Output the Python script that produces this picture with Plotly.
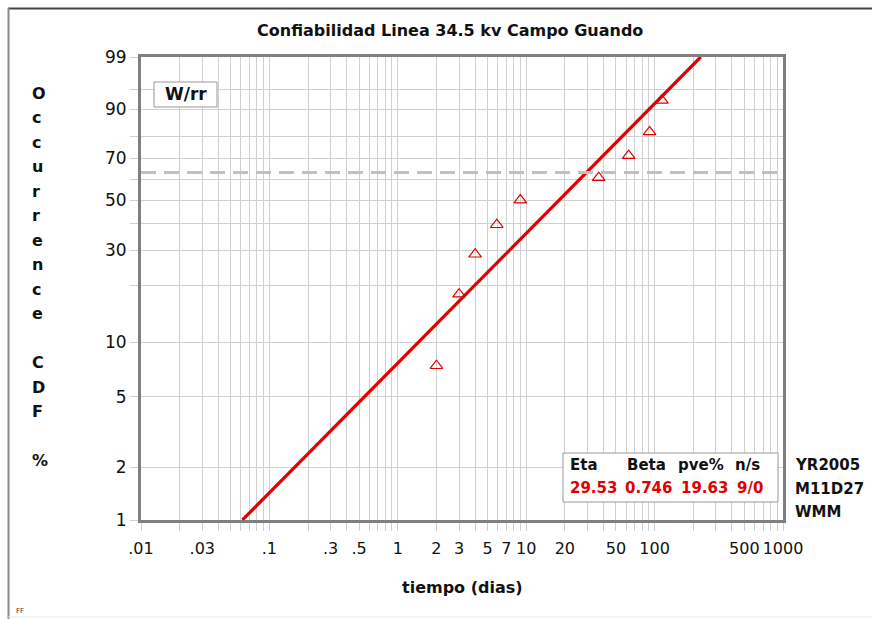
import numpy as np
import plotly.graph_objects as go

# ---------------- data ----------------
tiempo = [2.0, 3.0, 4.0, 5.9, 9.0, 36.7, 62.8, 91.4, 114.0]          # dias
cdf_pct = [7.45, 18.09, 28.72, 39.36, 50.0, 60.64, 71.28, 81.91, 92.55]  # median ranks %
fit_t = [0.0617, 228.7]       # fitted Weibull line endpoints (dias)
fit_cdf = [1.0, 99.0]         # at these CDF %
eta_line = 63.2               # characteristic-life reference line (%)

x_grid = [m * 10.0 ** e for e in range(-2, 3) for m in range(1, 10)] + [1000]
x_labels = {0.01: ".01", 0.03: ".03", 0.1: ".1", 0.3: ".3", 0.5: ".5", 1: "1", 2: "2",
            3: "3", 5: "5", 7: "7", 10: "10", 20: "20", 50: "50", 100: "100",
            500: "500", 1000: "1000"}
y_grid = [1, 2, 5, 10, 20, 30, 40, 50, 60, 70, 80, 90, 95, 99]
y_labels = [1, 2, 5, 10, 30, 50, 70, 90, 99]

stat_heads = ["Eta", "Beta", "pve%", "n/s"]
stat_vals = ["29.53", "0.746", "19.63", "9/0"]
side_text = ["YR2005", "M11D27", "WMM"]
ylabel_chars = list("Occurrence") + [""] + list("CDF") + [""] + ["%"]


def wb(p):
    p = np.asarray(p, dtype=float) / 100.0
    return np.log(-np.log(1.0 - p))


# ---------------- layout helpers (pixel -> paper) ----------------
L, R, T, B = 141, 783, 57, 520
W, H = 872, 619


def px(x):
    return (x - L) / (R - L)


def py(y):
    return (B - y) / (B - T)


FONT = "DejaVu Sans"
RED = "#e00000"

fig = go.Figure()
fig.add_trace(go.Scatter(x=fit_t, y=wb(fit_cdf), mode="lines",
                         line=dict(color=RED, width=3.2), hoverinfo="skip"))
fig.add_trace(go.Scatter(x=tiempo, y=wb(cdf_pct), mode="markers",
                         marker=dict(symbol="triangle-up-open", color=RED, size=11,
                                     line=dict(width=1.2, color=RED))))

def xlab(v):
    for k, s in x_labels.items():
        if abs(v - k) / k < 1e-6:
            return s
    return ""

fig.update_xaxes(type="log", range=[-2, 3], tickvals=x_grid,
                 ticktext=[xlab(v) for v in x_grid],
                 showgrid=True, gridcolor="#d0d0d0", gridwidth=1,
                 ticks="outside", ticklen=8, tickcolor="#d0d0d0",
                 showline=True, linecolor="#808080", linewidth=3, mirror=True,
                 tickfont=dict(family=FONT, size=16, color="#111"),
                 ticklabelstandoff=4, zeroline=False)
fig.update_yaxes(range=[float(wb(1)), float(wb(99))], tickvals=list(wb(y_grid)),
                 ticktext=[str(v) if v in y_labels else "" for v in y_grid],
                 showgrid=True, gridcolor="#d0d0d0", gridwidth=1,
                 ticks="outside", ticklen=8, tickcolor="#d0d0d0",
                 showline=True, linecolor="#808080", linewidth=3, mirror=True,
                 tickfont=dict(family=FONT, size=17, color="#111"),
                 ticklabelstandoff=0, zeroline=False)

shapes = []
# 63.2% dashed line
shapes.append(dict(type="line", xref="paper", yref="y", x0=0, x1=1,
                   y0=float(wb(eta_line)), y1=float(wb(eta_line)),
                   line=dict(color="#c0c0c0", width=3, dash="15px,8px")))
# W/rr box
shapes.append(dict(type="rect", xref="paper", yref="paper", x0=px(154), x1=px(217),
                   y0=py(107), y1=py(82), line=dict(color="#999", width=1), fillcolor="white"))
# stats box
shapes.append(dict(type="rect", xref="paper", yref="paper", x0=px(563), x1=px(778),
                   y0=py(502), y1=py(453), line=dict(color="#999", width=1), fillcolor="white"))
# outer frame
shapes.append(dict(type="line", xref="paper", yref="paper", x0=px(8), x1=px(872),
                   y0=py(8.5), y1=py(8.5), line=dict(color="#444", width=2)))
shapes.append(dict(type="line", xref="paper", yref="paper", x0=px(8.5), x1=px(8.5),
                   y0=py(8), y1=py(619), line=dict(color="#888", width=2)))
shapes.append(dict(type="line", xref="paper", yref="paper", x0=px(8), x1=px(872),
                   y0=py(617), y1=py(617), line=dict(color="#e6e6e6", width=1)))

ann = []
ann.append(dict(text="<b>Confiabilidad Linea 34.5 kv Campo Guando</b>", x=px(450), y=py(31),
                xref="paper", yref="paper", showarrow=False, xanchor="center", yanchor="middle",
                font=dict(family=FONT, size=16, color="#111")))
ann.append(dict(text="<b>tiempo (dias)</b>", x=px(462), y=py(587),
                xref="paper", yref="paper", showarrow=False, xanchor="center", yanchor="middle",
                font=dict(family=FONT, size=16, color="#111")))
ann.append(dict(text="<b>W/rr</b>", x=px(185.5), y=py(94.5),
                xref="paper", yref="paper", showarrow=False, xanchor="center", yanchor="middle",
                font=dict(family=FONT, size=17, color="#111")))
for i, ch in enumerate(ylabel_chars):
    if ch:
        ann.append(dict(text="<b>%s</b>" % ch, x=px(30), y=py(93 + 24.5 * i),
                        xref="paper", yref="paper", showarrow=False, xanchor="left",
                        yanchor="middle", font=dict(family=FONT, size=16, color="#111")))
head_x = [568, 625, 676, 733]
val_x = [568, 623, 679, 735]
for s, x in zip(stat_heads, head_x):
    ann.append(dict(text="<b>%s</b>" % s, x=px(x), y=py(465), xref="paper", yref="paper",
                    showarrow=False, xanchor="left", yanchor="middle",
                    font=dict(family=FONT, size=15, color="#111")))
for s, x in zip(stat_vals, val_x):
    ann.append(dict(text="<b>%s</b>" % s, x=px(x), y=py(488), xref="paper", yref="paper",
                    showarrow=False, xanchor="left", yanchor="middle",
                    font=dict(family=FONT, size=15, color=RED)))
for i, s in enumerate(side_text):
    ann.append(dict(text="<b>%s</b>" % s, x=px(793), y=py(465 + 23.5 * i), xref="paper",
                    yref="paper", showarrow=False, xanchor="left", yanchor="middle",
                    font=dict(family=FONT, size=15, color="#111")))
ann.append(dict(text="FF", x=px(14), y=py(611), xref="paper", yref="paper", showarrow=False,
                xanchor="left", yanchor="middle", font=dict(family=FONT, size=7, color="#333")))

fig.update_layout(width=W, height=H, margin=dict(l=L, r=W - R, t=T, b=H - B, pad=0),
                  paper_bgcolor="white", plot_bgcolor="white", showlegend=False,
                  shapes=shapes, annotations=ann)
fig.write_html("out.html", config={"displayModeBar": False},
               post_script="document.body.style.margin='0';")
